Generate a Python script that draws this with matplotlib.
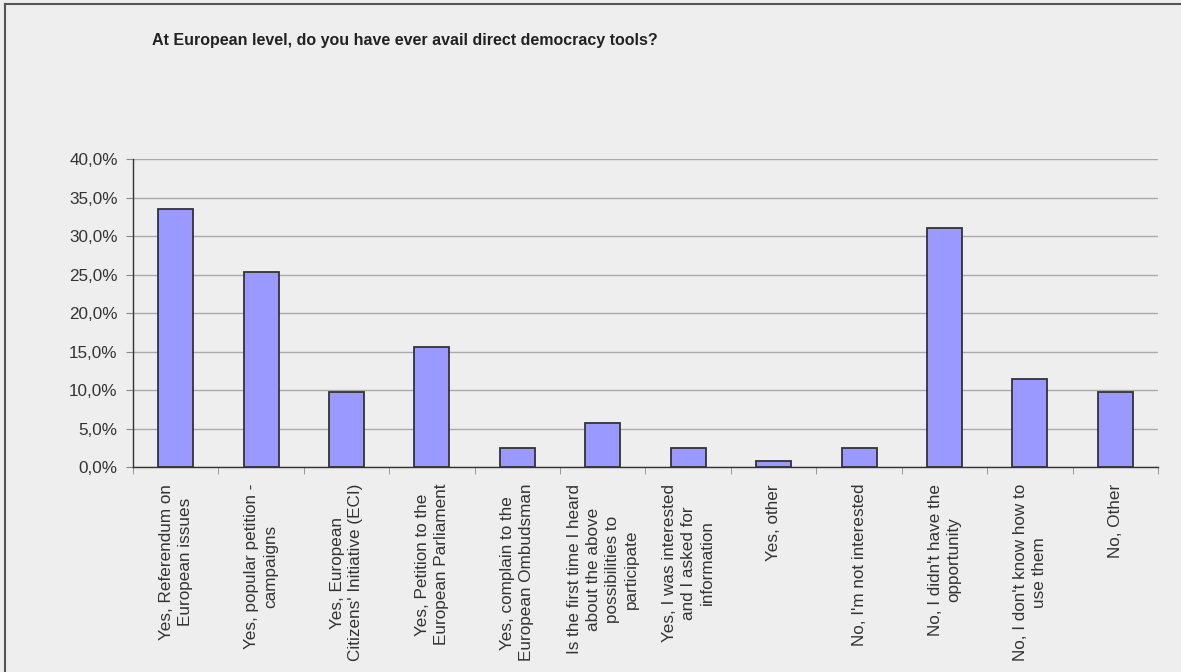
import matplotlib.pyplot as plt
import numpy as np
from matplotlib.lines import Line2D

plt.rcParams['font.family'] = ['Liberation Sans', 'DejaVu Sans']

# Survey answers (share of respondents)
categories = [
    "Yes, Referendum on\nEuropean issues",
    "Yes, popular petition -\ncampaigns",
    "Yes, European\nCitizens' Initiative (ECI)",
    "Yes, Petition to the\nEuropean Parliament",
    "Yes, complain to the\nEuropean Ombudsman",
    "Is the first time I heard\nabout the above\npossibilities to\nparticipate",
    "Yes, I was interested\nand I asked for\ninformation",
    "Yes, other",
    "No, I'm not interested",
    "No, I didn't have the\nopportunity",
    "No, I don't know how to\nuse them",
    "No, Other",
]
shares = [33.6, 25.4, 9.8, 15.6, 2.5, 5.7, 2.5, 0.8, 2.5, 31.1, 11.5, 9.8]
y_ticks = [0, 5, 10, 15, 20, 25, 30, 35, 40]
title = "At European level, do you have ever avail direct democracy tools?"

BG = "#EEEEEE"
BAR = "#9999FF"
TEXT = "#333333"

fig = plt.figure(figsize=(11.81, 6.72), dpi=100, facecolor=BG)
ax = fig.add_axes([0.1126, 0.3046, 0.8679, 0.4583], facecolor=BG)

x = np.arange(len(categories))
ax.bar(x, shares, width=0.41, color=BAR, edgecolor="#333333", linewidth=1.3, zorder=3)

ax.set_xlim(-0.5, len(categories) - 0.5)
ax.set_ylim(0, 40)
ax.set_yticks(y_ticks)
ax.set_yticklabels([f"{v:.1f}%".replace(".", ",") for v in y_ticks])
ax.yaxis.grid(True, color="#AAAAAA", linewidth=1.0, zorder=0)
ax.tick_params(axis="y", length=5, color="#888888", pad=6, labelsize=12.3, labelcolor=TEXT)

# category labels at centres, tick marks at the boundaries
ax.set_xticks(x)
ax.set_xticklabels(categories, rotation=90, ha="center", va="top",
                   multialignment="center", fontsize=12.3, color=TEXT,
                   linespacing=1.32)
ax.tick_params(axis="x", which="major", length=0, pad=12)
ax.set_xticks(np.arange(-0.5, len(categories)), minor=True)
ax.tick_params(axis="x", which="minor", length=5, color="#888888")

for side in ["top", "right"]:
    ax.spines[side].set_visible(False)
for side in ["left", "bottom"]:
    ax.spines[side].set_color("#333333")
    ax.spines[side].set_linewidth(1.0)

fig.text(152 / 1181, 1 - 40 / 672, title, fontsize=11.5, fontweight="bold",
         color="#222222", ha="left", va="center")

# outer frame (left and top edges)
fig.add_artist(Line2D([5 / 1181, 5 / 1181], [0, 1 - 4 / 672], transform=fig.transFigure,
                      color="#555555", linewidth=1.5))
fig.add_artist(Line2D([5 / 1181, 1], [1 - 4 / 672, 1 - 4 / 672], transform=fig.transFigure,
                      color="#555555", linewidth=1.5))

fig.savefig("out.png", dpi=100, facecolor=BG)
